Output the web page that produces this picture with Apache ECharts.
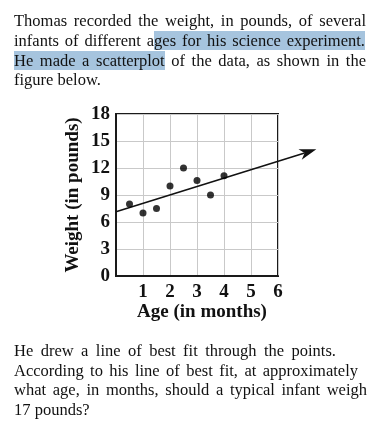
<!DOCTYPE html>
<html>
<head>
<meta charset="utf-8">
<script src="https://cdn.jsdelivr.net/npm/echarts@6/dist/echarts.min.js"></script>
<style>
  html, body { margin: 0; padding: 0; background: #fff; }
  #page { position: relative; width: 377px; height: 422px; overflow: hidden; }
  #chart { position: absolute; left: 0; top: 0; width: 377px; height: 422px; }
  .ln {
    position: absolute; left: 14px; height: 20px; line-height: 20px;
    font-family: "Liberation Serif", "Times New Roman", serif; font-size: 16.5px;
    color: #111; white-space: nowrap;
  }
  .just { text-align: justify; text-align-last: justify; white-space: normal; }
  .hl { background: #a6c4de; }
</style>
</head>
<body>
<div id="page">
  <div id="chart"></div>
  <div class="ln just" style="top:11px;width:352px">Thomas recorded the weight, in pounds, of several</div>
  <div class="ln just" style="top:31px;width:351px">infants of different a<span class="hl">ges for his science experiment.</span></div>
  <div class="ln just" style="top:51px;width:352px"><span class="hl">He made a scatterplot</span> of the data, as shown in the</div>
  <div class="ln" style="top:70px">figure below.</div>

  <div class="ln just" style="top:341px;width:322px">He drew a line of best fit through the points.</div>
  <div class="ln just" style="top:361px;width:344px">According to his line of best fit, at approximately</div>
  <div class="ln just" style="top:380px;width:353px">what age, in months, should a typical infant weigh</div>
  <div class="ln" style="top:400px">17 pounds?</div>
</div>
<script>
  // scatter data
  const ages = [0.5, 1, 1.5, 2, 2.5, 3, 3.5, 4];
  const weights = [8, 7, 7.5, 10, 12, 10.6, 9, 11.15];

  // line of best fit: starts on the y axis, ends at the arrow tip
  const fitStart = [0, 7.15];
  const fitEnd = [7.42, 14.07];

  const xMax = 6, xStep = 1;
  const yMax = 18, yStep = 3;

  const serif = '"Liberation Serif", "Times New Roman", serif';
  const ink = '#111';

  const chart = echarts.init(document.getElementById('chart'));

  // draws the fit line and its arrow head (goes past the plot box, so no clipping)
  function renderFit(params, api) {
    const a = api.coord([api.value(0), api.value(1)]);
    const b = api.coord([api.value(2), api.value(3)]);
    const dx = b[0] - a[0], dy = b[1] - a[1];
    const len = Math.sqrt(dx * dx + dy * dy);
    const ux = dx / len, uy = dy / len;
    const nx = -uy, ny = ux;
    const L = 17, W = 5.5;
    const back = [b[0] - ux * L, b[1] - uy * L];
    const notch = [b[0] - ux * L * 0.72, b[1] - uy * L * 0.72];
    return {
      type: 'group',
      children: [
        {
          type: 'line',
          shape: { x1: a[0], y1: a[1], x2: notch[0], y2: notch[1] },
          style: { stroke: ink, lineWidth: 1.6 },
        },
        {
          type: 'polygon',
          shape: {
            points: [
              b,
              [back[0] + nx * W, back[1] + ny * W],
              notch,
              [back[0] - nx * W, back[1] - ny * W],
            ],
          },
          style: { fill: ink },
        },
      ],
    };
  }

  const option = {
    backgroundColor: '#fff',
    animation: false,
    grid: {
      left: 116, top: 114, right: 99, bottom: 146,
      show: true, borderColor: '#1a1a1a', borderWidth: 2,
    },
    xAxis: {
      type: 'value',
      min: 0, max: xMax, interval: xStep,
      name: 'Age (in months)',
      nameLocation: 'middle',
      nameGap: 26,
      nameTextStyle: { fontFamily: serif, fontWeight: 'bold', fontSize: 19, color: ink, padding: [0, 0, 0, 10] },
      axisLine: { show: true, lineStyle: { color: '#1a1a1a', width: 2 } },
      axisTick: { show: false },
      axisLabel: {
        showMinLabel: false, margin: 7,
        fontFamily: serif, fontWeight: 'bold', fontSize: 19, color: ink,
      },
      splitLine: { show: true, lineStyle: { color: '#c9c9c9', width: 1 } },
    },
    yAxis: {
      type: 'value',
      min: 0, max: yMax, interval: yStep,
      name: 'Weight (in pounds)',
      nameLocation: 'middle',
      nameGap: 33,
      nameTextStyle: { fontFamily: serif, fontWeight: 'bold', fontSize: 19, color: ink },
      axisLine: { show: true, lineStyle: { color: '#1a1a1a', width: 2 } },
      axisTick: { show: false },
      axisLabel: {
        margin: 6,
        fontFamily: serif, fontWeight: 'bold', fontSize: 19, color: ink,
      },
      splitLine: { show: true, lineStyle: { color: '#c9c9c9', width: 1 } },
    },
    series: [
      {
        type: 'scatter',
        symbolSize: 7,
        z: 4,
        itemStyle: { color: '#000' },
        data: ages.map((a, i) => [a, weights[i]]),
      },
      {
        type: 'custom',
        clip: false,
        silent: true,
        z: 3,
        renderItem: renderFit,
        data: [[fitStart[0], fitStart[1], fitEnd[0], fitEnd[1]]],
      },
    ],
  };

  chart.setOption(option);
</script>
</body>
</html>
